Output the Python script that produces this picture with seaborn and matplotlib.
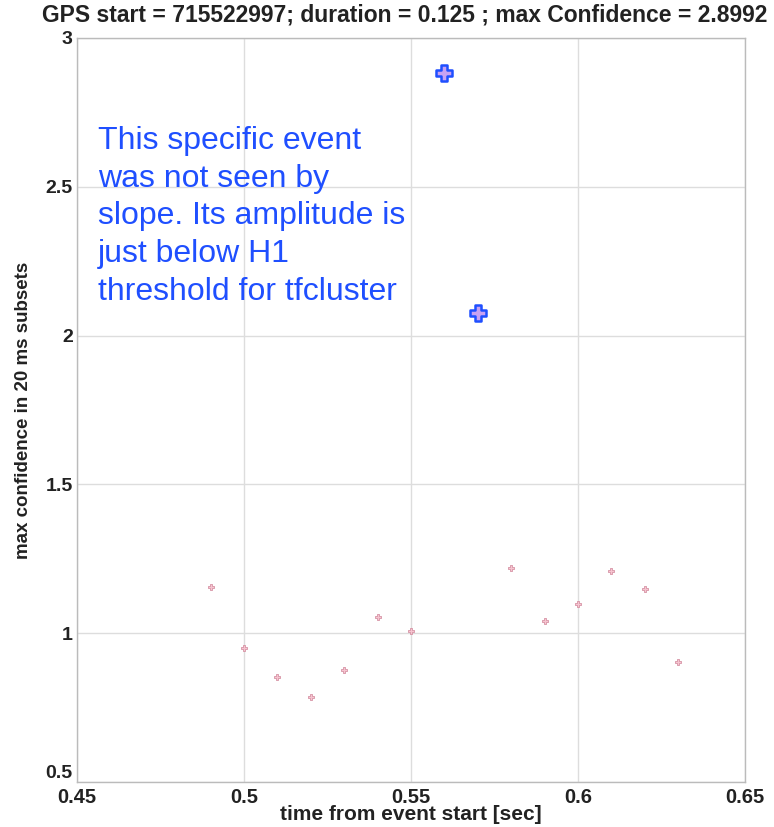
import matplotlib
matplotlib.use("Agg")
import matplotlib.pyplot as plt
import seaborn as sns
import pandas as pd

red_t = [0.49, 0.50, 0.51, 0.52, 0.53, 0.54, 0.55, 0.58, 0.59, 0.60, 0.61, 0.62, 0.63]
red_conf = [1.155, 0.95, 0.853, 0.786, 0.876, 1.054, 1.007, 1.219, 1.041, 1.098, 1.209, 1.148, 0.903]
blue_t = [0.56, 0.57]
blue_conf = [2.882, 2.076]
x_ticks = [0.45, 0.5, 0.55, 0.6, 0.65]
x_labels = ["0.45", "0.5", "0.55", "0.6", "0.65"]
y_ticks = [0.5, 1, 1.5, 2, 2.5, 3]
y_labels = ["0.5", "1", "1.5", "2", "2.5", "3"]

sns.set_style("white")
plt.rcParams['font.family'] = ['Liberation Sans', 'DejaVu Sans']

fig = plt.figure(figsize=(7.74, 8.27), dpi=100)
ax = fig.add_axes([77/774, 1-782/827, (745-77)/774, (782-38)/827])

red_df = pd.DataFrame({"t": red_t, "c": red_conf})
blue_df = pd.DataFrame({"t": blue_t, "c": blue_conf})

sns.scatterplot(data=red_df, x="t", y="c", ax=ax, marker="P", s=20,
                color="#f6c4d0", edgecolor="#d08498", linewidth=0.5, zorder=3)
sns.scatterplot(data=blue_df, x="t", y="c", ax=ax, marker="P", s=120,
                color="#c8a2f2", edgecolor="#1f4fff", linewidth=1.8, zorder=4)

ax.set_xlim(0.45, 0.65)
ax.set_ylim(0.5, 3)
ax.set_xticks(x_ticks)
ax.set_xticklabels(x_labels)
ax.set_yticks(y_ticks)
ax.set_yticklabels(y_labels)
ax.grid(True, color="#dddddd", linewidth=1)
for s in ax.spines.values():
    s.set_color("#bbbbbb")
    s.set_linewidth(1)
ax.tick_params(axis="y", labelsize=14, colors="#222222", length=3, pad=0)
ax.tick_params(axis="x", labelsize=14.5, colors="#222222", length=3, pad=1)
for lbl in ax.get_xticklabels() + ax.get_yticklabels():
    lbl.set_fontweight("bold")
ax.get_yticklabels()[0].set_verticalalignment("bottom")

ax.set_xlabel("time from event start [sec]", fontsize=15, fontweight="bold", color="#222222", labelpad=-1)
ax.set_ylabel("max confidence in 20 ms subsets", fontsize=13.5, fontweight="bold", color="#222222", labelpad=10)
ax.set_title("GPS start = 715522997; duration = 0.125 ; max Confidence = 2.8992",
             fontsize=16.5, fontweight="bold", color="#222222", pad=12, x=0.49)

ax.text(0.4562, 2.705,
        "This specific event\nwas not seen by\nslope. Its amplitude is\njust below H1\nthreshold for tfcluster",
        fontsize=23, color="#1f4fff", va="top", ha="left", linespacing=1.34)

fig.savefig("out.png", dpi=100)
